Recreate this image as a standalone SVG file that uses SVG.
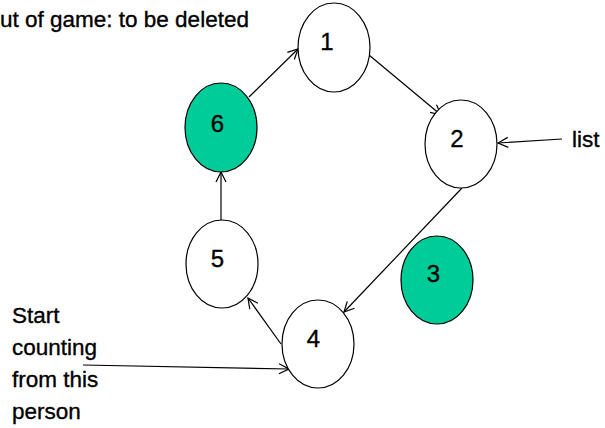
<svg xmlns="http://www.w3.org/2000/svg" width="605" height="428" viewBox="0 0 605 428">
  <style>
    .node ellipse { stroke: #000; stroke-width: 1.2; }
    .plain { fill: #fff; }
    .out { fill: #00cc99; }
    text { font-family: "Liberation Sans", Arial, sans-serif; font-size: 22.5px; fill: #000; stroke: #000; stroke-width: 0.35; }
    .num { text-anchor: middle; font-size: 24px; }
    .conn line { stroke: #000; stroke-width: 1.2; marker-end: url(#arrow); }
  </style>
  <defs>
    <marker id="arrow" markerWidth="12" markerHeight="12" refX="11" refY="6" orient="auto" markerUnits="userSpaceOnUse">
      <path d="M1,1 L11,6 L1,11" fill="none" stroke="#000" stroke-width="1.2"/>
    </marker>
  </defs>
  <rect width="605" height="428" fill="#fff"/>

  <!-- free labels -->
  <text x="0" y="27">ut of game: to be deleted</text>
  <text x="572" y="147">list</text>
  <g id="start-label">
    <text x="12" y="323">Start</text>
    <text x="12" y="355">counting</text>
    <text x="12" y="387">from this</text>
    <text x="12" y="419">person</text>
  </g>

  <!-- connectors -->
  <g id="connectors" class="conn">
    <line x1="249" y1="97" x2="298" y2="49"/>
    <line x1="369" y1="55" x2="441" y2="115"/>
    <line x1="562" y1="139" x2="498" y2="143"/>
    <line x1="462" y1="188" x2="344" y2="312"/>
    <line x1="281" y1="344" x2="248" y2="298"/>
    <line x1="221" y1="220" x2="221" y2="172"/>
    <line x1="83" y1="365" x2="289" y2="369"/>
  </g>

  <!-- nodes -->
  <g id="node1" class="node">
    <ellipse class="plain" cx="334" cy="47.5" rx="36" ry="44.5"/>
    <text class="num" x="327" y="50">1</text>
  </g>
  <g id="node2" class="node">
    <ellipse class="plain" cx="461" cy="144" rx="36" ry="44"/>
    <text class="num" x="457" y="147">2</text>
  </g>
  <g id="node3" class="node">
    <ellipse class="out" cx="437" cy="280" rx="36" ry="44"/>
    <text class="num" x="433.5" y="282">3</text>
  </g>
  <g id="node4" class="node">
    <ellipse class="plain" cx="318" cy="344" rx="36" ry="44"/>
    <text class="num" x="313.5" y="347">4</text>
  </g>
  <g id="node5" class="node">
    <ellipse class="plain" cx="222" cy="264" rx="36" ry="44"/>
    <text class="num" x="217.5" y="267">5</text>
  </g>
  <g id="node6" class="node">
    <ellipse class="out" cx="221" cy="127.5" rx="36" ry="44.5"/>
    <text class="num" x="217.5" y="132">6</text>
  </g>
</svg>
